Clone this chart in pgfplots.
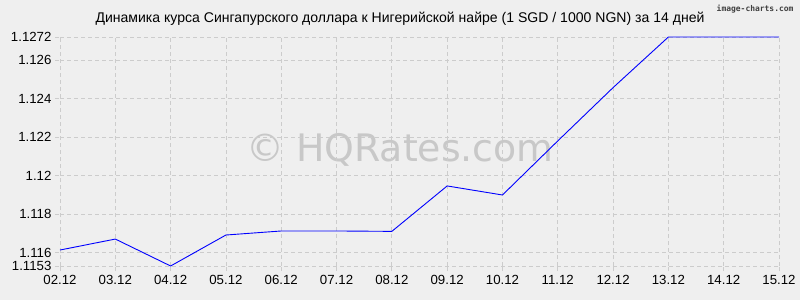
\documentclass[border=0pt]{standalone}
\usepackage{fontspec}
\setmainfont{Liberation Sans}
\newfontfamily\wmfont{DejaVu Sans}
\newfontfamily\icfont{DejaVu Sans Mono}
\usepackage{pgfplots}
\pgfplotsset{compat=1.18}
\definecolor{bg}{HTML}{EFEFEF}
\definecolor{gridc}{HTML}{CCCCCC}
\definecolor{wm}{HTML}{C8C8C8}
\begin{document}
\begin{tikzpicture}[x=1bp,y=1bp]
\fill[bg] (0,0) rectangle (800,300);
\useasboundingbox (0,0) rectangle (800,300);
\node[font=\wmfont\fontsize{38}{40}\selectfont, text=wm] at (400,150) {© HQRates.com};
\begin{axis}[
  at={(60bp,34bp)}, anchor=south west,
  width=719bp, height=229bp, scale only axis,
  xmin=0, xmax=13, ymin=1.1153, ymax=1.1272,
  axis x line*=bottom, axis y line*=left,
  axis line style={draw=none},
  xtick={0,...,13},
  xticklabels={02.12,03.12,04.12,05.12,06.12,07.12,08.12,09.12,10.12,11.12,12.12,13.12,14.12,15.12},
  ytick={1.1153,1.116,1.118,1.12,1.122,1.124,1.126,1.1272},
  yticklabels={1.1153,1.116,1.118,1.12,1.122,1.124,1.126,1.1272},
  grid=major,
  major grid style={draw=gridc, dash pattern=on 4bp off 3bp, line width=0.8bp},
  tick style={draw=gridc, dash pattern=on 4bp off 3bp, line width=0.8bp},
  tick align=outside, major tick length=5bp,
  tick label style={font=\fontsize{13.3}{15}\selectfont, text=black},
  xticklabel style={yshift=-1bp},
  clip=false,
]
\addplot[blue, line width=0.9bp, mark=none] coordinates {
(0,1.11613) (1,1.11670) (2,1.11530) (3,1.11691) (4,1.11712) (5,1.11712) (6,1.11710)
(7,1.11946) (8,1.11899) (9,1.12180) (10,1.12457) (11,1.1272) (12,1.1272) (13,1.1272)
};
\end{axis}
\node[font=\fontsize{14.1}{16}\selectfont] at (400,281) {Динамика курса Сингапурского доллара к Нигерийской найре (1 SGD / 1000 NGN) за 14 дней};
\node[font=\icfont\bfseries\fontsize{8}{9}\selectfont, text=black!75, anchor=east] at (797,291) {image-charts.com};
\end{tikzpicture}
\end{document}
